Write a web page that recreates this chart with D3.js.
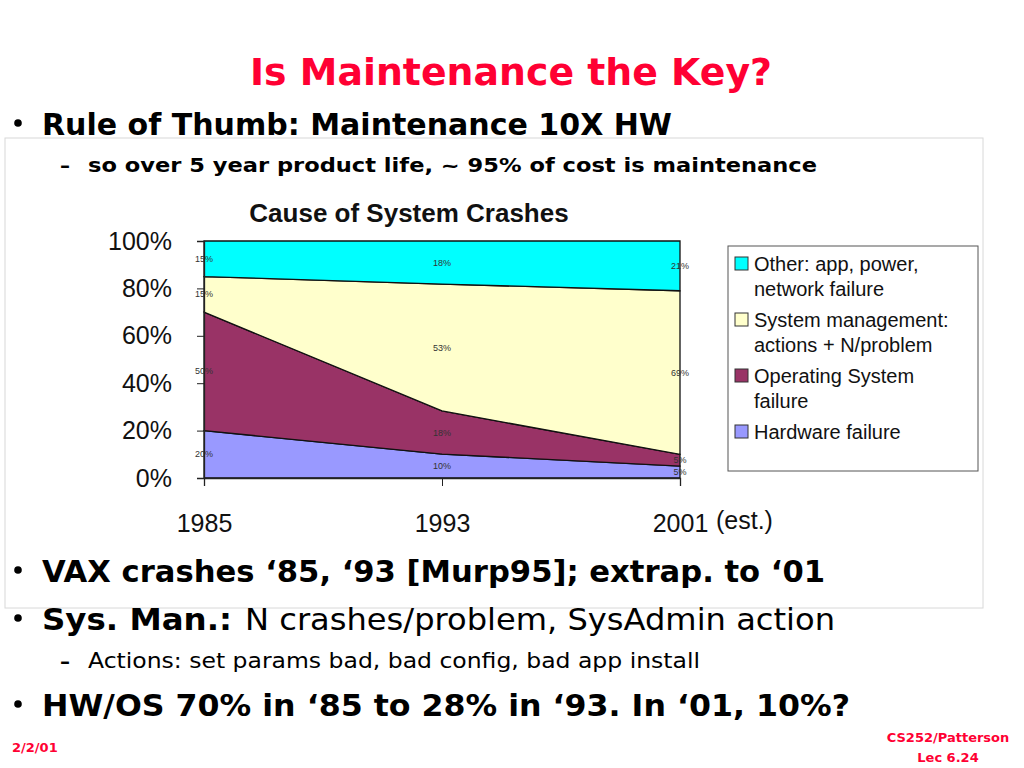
<!DOCTYPE html>
<html>
<head>
<meta charset="utf-8">
<script src="https://cdn.jsdelivr.net/npm/d3@7"></script>
<style>
  body { margin: 0; background: #fff; }
  .slide { font-family: 'Comic Sans MS', 'DejaVu Sans', sans-serif; }
  .chart text { font-family: 'Liberation Sans', Arial, sans-serif; }
</style>
</head>
<body>
<svg id="slide" width="1024" height="768"></svg>
<script>
// chart data (percent of crashes)
const years = ['1985', '1993', '2001'];
const hardware = [20, 10, 5];
const osFailure = [50, 18, 5];
const sysManagement = [15, 53, 69];
const other = [15, 18, 21];

const seriesKeys = ['hardware', 'os', 'sysman', 'other'];
const seriesColors = ['#9999ff', '#993366', '#ffffcc', '#00ffff'];
const legendLabels = [
    ['Other: app, power,', 'network failure'],
    ['System management:', 'actions + N/problem'],
    ['Operating System', 'failure'],
    ['Hardware failure']
];
const yTicks = [0, 20, 40, 60, 80, 100];

const table = years.map((y, i) => ({
    year: y,
    hardware: hardware[i],
    os: osFailure[i],
    sysman: sysManagement[i],
    other: other[i]
}));

const svg = d3.select('#slide');

// chart panel (embedded picture background)
svg.append('rect')
    .attr('x', 5).attr('y', 138).attr('width', 978).attr('height', 470)
    .attr('fill', '#fff').attr('stroke', '#d8d8d8');

// ---- slide text ----
const slide = svg.append('g').attr('class', 'slide');

slide.append('text')
    .attr('x', 250).attr('y', 85)
    .attr('textLength', 522).attr('lengthAdjust', 'spacingAndGlyphs')
    .style('font-size', '38px').style('font-weight', 'bold')
    .attr('fill', '#ff0033')
    .text('Is Maintenance the Key?');

function bullet(y) {
    slide.append('circle').attr('cx', 18).attr('cy', y - 12).attr('r', 3.8).attr('fill', '#000');
}
function dash(y) {
    slide.append('text').attr('x', 60).attr('y', y)
        .style('font-size', '20px').style('font-weight', 'bold').text('–');
}
function line(txt, x, y, len, size, weight) {
    slide.append('text')
        .attr('x', x).attr('y', y)
        .attr('textLength', len).attr('lengthAdjust', 'spacingAndGlyphs')
        .style('font-size', size + 'px').style('font-weight', weight)
        .attr('fill', '#000')
        .text(txt);
}

bullet(135);
line('Rule of Thumb: Maintenance 10X HW', 42, 135, 630, 30, 'bold');
dash(172);
line('so over 5 year product life, ~ 95% of cost is maintenance', 88, 172, 729, 20, 'bold');

bullet(582);
line('VAX crashes ‘85, ‘93 [Murp95]; extrap. to ‘01', 42, 582, 783, 30, 'bold');
bullet(630);
line('Sys. Man.:', 42, 630, 190, 30, 'bold');
line('N crashes/problem, SysAdmin action', 245, 630, 590, 30, 'normal');
dash(668);
line('Actions: set params bad, bad config, bad app install', 88, 668, 612, 21, 'normal');
bullet(716);
line('HW/OS 70% in ‘85 to 28% in ‘93. In ‘01, 10%?', 42, 716, 808, 30, 'bold');

slide.append('text').attr('x', 12).attr('y', 752)
    .attr('fill', '#ff0033').style('font-size', '13px').style('font-weight', 'bold')
    .text('2/2/01');
slide.append('text').attr('x', 948).attr('y', 742).attr('text-anchor', 'middle')
    .attr('fill', '#ff0033').style('font-size', '13px').style('font-weight', 'bold')
    .text('CS252/Patterson');
slide.append('text').attr('x', 948).attr('y', 762).attr('text-anchor', 'middle')
    .attr('fill', '#ff0033').style('font-size', '13px').style('font-weight', 'bold')
    .text('Lec 6.24');

// ---- stacked area chart ----
const margin = { top: 241, left: 204 };
const width = 476, height = 237;

const chart = svg.append('g')
    .attr('class', 'chart')
    .attr('transform', `translate(${margin.left},${margin.top})`);

const x = d3.scalePoint().domain(years).range([0, width]);
const y = d3.scaleLinear().domain([0, 1]).range([height, 0]);

const stack = d3.stack().keys(seriesKeys).offset(d3.stackOffsetExpand);
const layers = stack(table);

const area = d3.area()
    .x(d => x(d.data.year))
    .y0(d => y(d[0]))
    .y1(d => y(d[1]));

chart.selectAll('.layer')
    .data(layers)
    .enter().append('path')
    .attr('class', 'layer')
    .attr('d', area)
    .attr('fill', (d, i) => seriesColors[i])
    .attr('stroke', '#111')
    .attr('stroke-width', 1.3);

// data labels at layer midpoints
layers.forEach(layer => {
    chart.selectAll(null)
        .data(layer)
        .enter().append('text')
        .attr('x', d => x(d.data.year))
        .attr('y', d => y((d[0] + d[1]) / 2) + 3)
        .attr('text-anchor', 'middle')
        .style('font-size', '9px')
        .attr('fill', '#333')
        .text(d => d.data[layer.key] + '%');
});

// axes
const yAxis = d3.axisLeft(y)
    .tickValues(yTicks.map(v => v / 100))
    .tickFormat(v => Math.round(v * 100) + '%')
    .tickSize(7).tickPadding(25);
const yAxisG = chart.append('g').call(yAxis);
yAxisG.select('.domain').attr('stroke', '#222').attr('stroke-width', 1.3);
yAxisG.selectAll('.tick line').attr('stroke', '#222');
yAxisG.selectAll('.tick text').style('font-size', '25px').attr('fill', '#111');

const xAxis = d3.axisBottom(x).tickSize(8).tickPadding(28);
const xAxisG = chart.append('g')
    .attr('transform', `translate(0,${height})`)
    .call(xAxis);
xAxisG.select('.domain').attr('stroke', '#222').attr('stroke-width', 1.3);
xAxisG.selectAll('.tick line').attr('stroke', '#222');
xAxisG.selectAll('.tick text').style('font-size', '25px').attr('fill', '#111');

chart.append('text')
    .attr('x', width + 36).attr('y', height + 51)
    .style('font-size', '25px').attr('fill', '#111')
    .text('(est.)');

chart.append('text')
    .attr('x', 205).attr('y', -19)
    .attr('text-anchor', 'middle')
    .style('font-size', '26px').style('font-weight', 'bold')
    .attr('fill', '#111')
    .text('Cause of System Crashes');

// legend
const legend = svg.append('g').attr('class', 'chart')
    .attr('transform', 'translate(728,246)');
legend.append('rect')
    .attr('width', 250).attr('height', 225)
    .attr('fill', '#fff').attr('stroke', '#555');

const legendColors = seriesColors.slice().reverse();
const itemY = [18, 74, 130, 186];
legendLabels.forEach((lines, i) => {
    const g = legend.append('g').attr('transform', `translate(0,${itemY[i]})`);
    g.append('rect')
        .attr('x', 7).attr('y', -7).attr('width', 13).attr('height', 13)
        .attr('fill', legendColors[i]).attr('stroke', '#333');
    lines.forEach((t, j) => {
        g.append('text')
            .attr('x', 26).attr('y', 7 + j * 25)
            .style('font-size', '20px').attr('fill', '#111')
            .text(t);
    });
});
</script>
</body>
</html>
